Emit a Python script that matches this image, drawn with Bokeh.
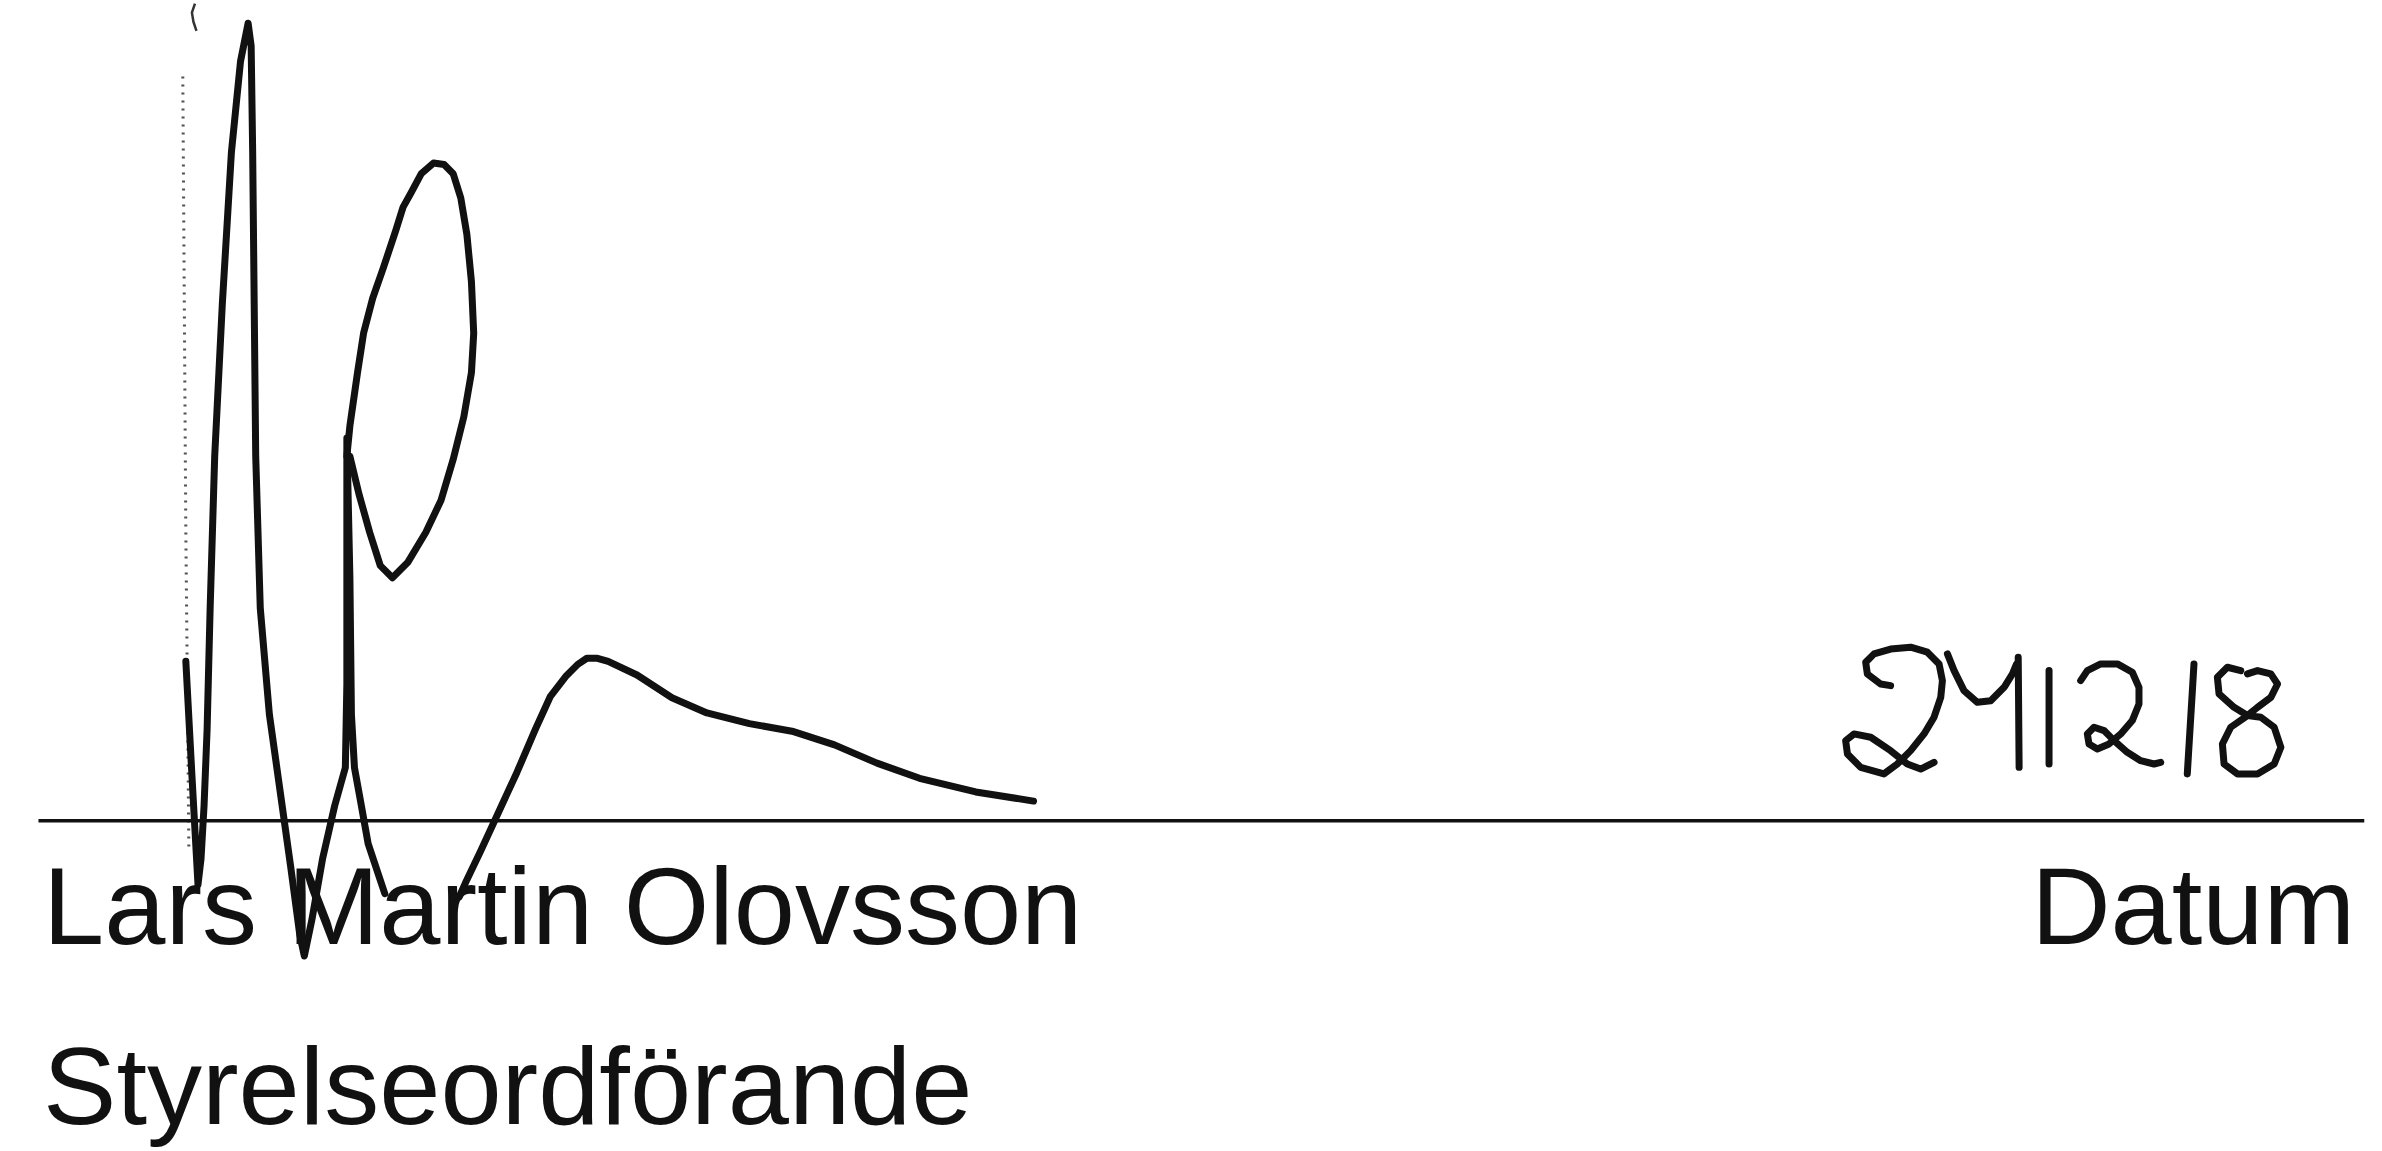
from bokeh.plotting import figure
from bokeh.models import Range1d
from bokeh.core.properties import value
from bokeh.embed import file_html
from bokeh.resources import INLINE

# ---- data (page coordinates, in units of the 1568-wide reference) ----
name_label = "Lars Martin Olovsson"
role_label = "Styrelseordförande"
date_label = "Datum"

rule_x = [25, 1556]
rule_y = [540, 540]

# signature: tall loop + V + second peak
sig_a_x = [122, 126, 130, 132, 134, 136, 138, 141, 146, 152, 158, 163, 165, 166, 167, 168, 171, 177, 184, 191, 197, 200, 205, 212, 220, 227, 228, 228, 228, 230, 231, 233, 237, 242, 250, 253]
sig_a_y = [435, 510, 582, 565, 530, 480, 400, 300, 200, 100, 40, 15, 30, 100, 200, 300, 400, 470, 520, 570, 615, 629, 605, 565, 530, 505, 450, 380, 288, 380, 470, 505, 527, 555, 579, 588]
# signature: oval
sig_b_x = [228, 230, 235, 239, 245, 252, 260, 265, 270, 277, 285, 292, 298, 303, 307, 310, 311.5, 310, 305, 298, 290, 280, 268, 258, 250, 243, 236, 230]
sig_b_y = [300, 280, 245, 219, 196, 176, 152, 136, 127, 114, 107, 108, 114, 130, 154, 185, 219, 245, 274, 302, 329, 350, 370, 380, 372, 350, 325, 300]
# signature: tail
sig_c_x = [302, 306, 316, 328, 340, 352, 362, 372, 380, 386, 393, 400, 419, 442, 465, 493, 521, 549, 577, 605, 642, 680]
sig_c_y = [590, 581, 560, 534, 508, 480, 458, 445, 437, 433, 433, 435, 444, 459, 469, 476, 481, 490, 502, 512, 521, 527]

# handwritten date strokes "24 12 18"
d2a_x = [1244.2, 1237.6, 1228.9, 1227.8, 1233.3, 1244.2, 1257.4, 1268.4, 1276.1, 1278.3, 1277.2, 1272.8, 1266.2, 1257.4, 1248.6, 1239.8, 1224.5, 1215.8, 1214.6, 1220.1, 1231.1, 1244.2, 1255.2, 1264.0, 1272.8]
d2a_y = [451.0, 449.9, 443.3, 435.6, 430.1, 426.9, 425.7, 429.0, 436.7, 447.7, 458.7, 471.8, 482.8, 493.8, 502.6, 509.1, 504.8, 496.0, 487.2, 482.8, 485.0, 493.8, 502.6, 505.9, 501.5]
d4a_x = [1281.6, 1286.0, 1292.5, 1301.3, 1310.1, 1318.9, 1324.4, 1327.0]
d4a_y = [430.1, 441.1, 454.3, 462.0, 460.9, 452.1, 443.3, 437.0]
d4b_x = [1328.2, 1328.4, 1328.6, 1328.8]
d4b_y = [432.3, 456.0, 481.0, 504.8]
d1a_x = [1348.5, 1348.5, 1348.5]
d1a_y = [441.1, 472.0, 502.6]
d2b_x = [1369.3, 1373.7, 1382.5, 1393.5, 1403.3, 1407.7, 1407.7, 1403.3, 1395.7, 1388.0, 1380.3, 1374.8, 1373.7, 1378.1, 1384.7, 1391.3, 1400.0, 1408.8, 1417.6, 1422.0]
d2b_y = [447.7, 441.1, 436.7, 436.7, 442.2, 452.1, 463.1, 474.0, 482.8, 489.4, 492.7, 489.4, 482.8, 478.4, 480.6, 487.2, 494.9, 500.4, 502.6, 501.5]
d1b_x = [1443.9, 1442.8, 1441.7, 1440.6, 1439.5]
d1b_y = [436.7, 455.0, 473.0, 491.0, 509.1]
d8_x = [1474.7, 1465.9, 1459.3, 1460.4, 1470.3, 1479.1, 1468.1, 1462.6, 1463.7, 1472.5, 1485.7, 1496.7, 1501.1, 1496.7, 1487.9, 1479.1, 1485.7, 1494.5, 1498.9, 1494.5, 1485.7, 1479.1]
d8_y = [441.1, 438.9, 445.5, 456.5, 465.3, 470.7, 478.4, 489.4, 502.6, 509.1, 509.1, 502.6, 491.6, 478.4, 471.8, 470.7, 465.3, 458.7, 449.9, 443.3, 441.1, 443.3]

# scan speckle column left of the signature
noise_x = [120, 121, 122, 123, 124]
noise_y = [50, 200, 350, 450, 560]
mark_x = [128, 126, 127, 129]
mark_y = [2, 8, 14, 20]

# ---- figure ----
S = 2382 / 1568.0
W, H = 2380, 1149
p = figure(width=W, height=H, output_backend="svg", toolbar_location=None,
           x_range=Range1d(0, W / S), y_range=Range1d(H / S, 0),
           min_border=0, outline_line_color=None, background_fill_color="white",
           border_fill_color="white")
p.axis.visible = False
p.grid.visible = False

ink = "#111111"

p.line(noise_x, noise_y, line_color="#333333", line_width=3, line_dash="2 6", line_alpha=0.85)
p.line(mark_x, mark_y, line_color="#333333", line_width=2.5)
p.line(rule_x, rule_y, line_color=ink, line_width=3.5)

for xs, ys in [(sig_a_x, sig_a_y), (sig_b_x, sig_b_y), (sig_c_x, sig_c_y)]:
    p.line(xs, ys, line_color=ink, line_width=7, line_join="round", line_cap="round")

for xs, ys in [(d2a_x, d2a_y), (d4a_x, d4a_y), (d4b_x, d4b_y), (d1a_x, d1a_y),
               (d2b_x, d2b_y), (d1b_x, d1b_y), (d8_x, d8_y)]:
    p.line(xs, ys, line_color=ink, line_width=7, line_join="round", line_cap="round")

font = value("Liberation Sans")
p.text(x=[28, 28], y=[596, 714], text=[name_label, role_label], text_font=font,
       text_font_size=value("110px"), text_baseline="middle", text_align="left",
       text_color=ink)
p.text(x=[1550], y=[596], text=[date_label], text_font=font,
       text_font_size=value("110px"), text_baseline="middle", text_align="right",
       text_color=ink)

open("out.html", "w").write(file_html(p, INLINE))
